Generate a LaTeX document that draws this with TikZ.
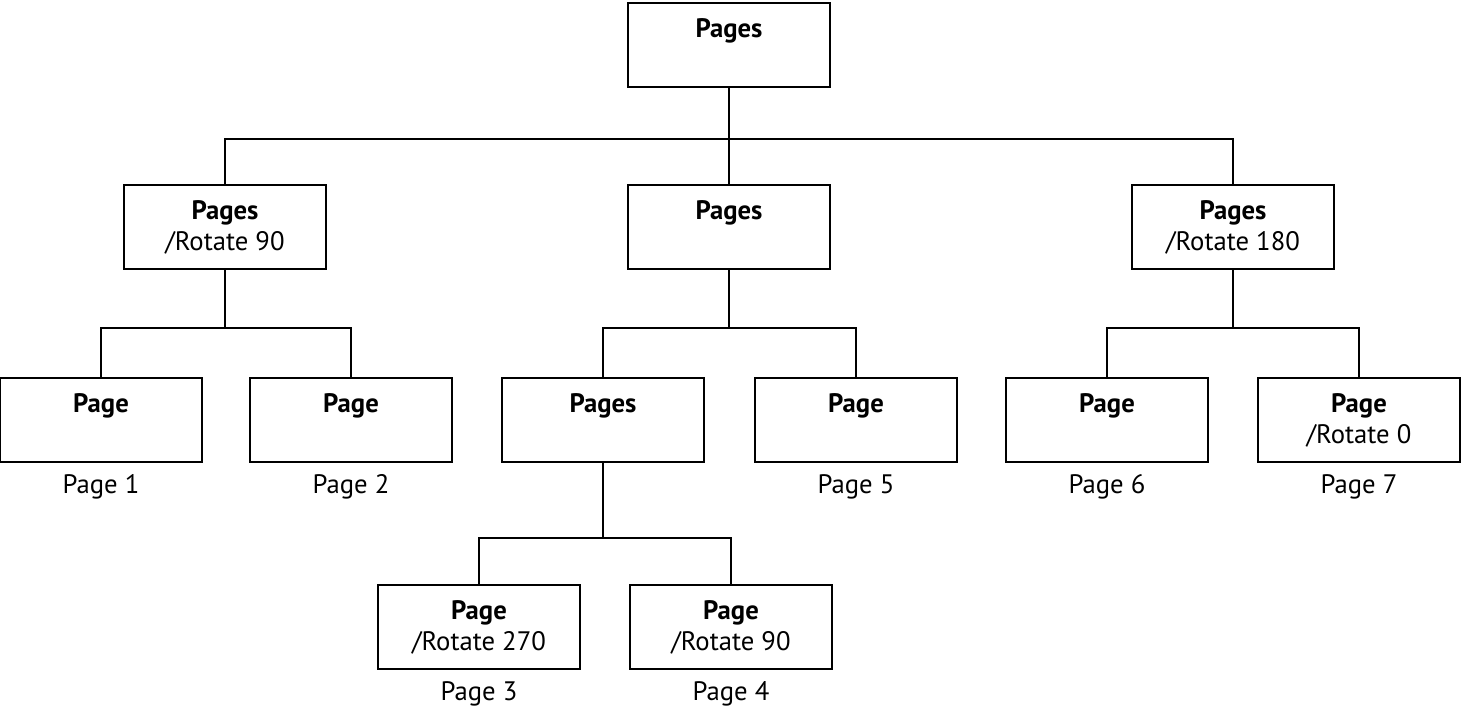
\documentclass[tikz,border=0pt]{standalone}
\usepackage{fontspec}
\setmainfont{PT Sans}
\usetikzlibrary{positioning}

\newcommand{\boxtxt}[2]{\parbox[t][1.68cm][t]{4cm}{\centering\rule{0pt}{0.7cm}\textbf{#1}\\#2}}

\begin{document}
\begin{tikzpicture}[x=0.02cm,y=-0.02cm,line width=0.8pt,
    bus/.style={to path={(\tikztostart) -- (\tikztostart |- #1) -| (\tikztotarget)}}]
    \useasboundingbox (0,0) rectangle (1478,715);
    \fontsize{15.2}{17.6}\selectfont
    \begin{scope}[every node/.style={rectangle,draw=black,minimum width=4.04cm,minimum height=1.68cm,inner sep=0pt}]
        \node (R) at (729,45) {\boxtxt{Pages}{}};
        \node (A) at (225,227) {\boxtxt{Pages}{/Rotate 90}};
        \node (B) at (729,227) {\boxtxt{Pages}{}};
        \node (C) at (1233,227) {\boxtxt{Pages}{/Rotate 180}};
        \node (A1) at (101,420) {\boxtxt{Page}{}};
        \node (A2) at (351,420) {\boxtxt{Page}{}};
        \node (B1) at (603,420) {\boxtxt{Pages}{}};
        \node (B2) at (856,420) {\boxtxt{Page}{}};
        \node (C1) at (1107,420) {\boxtxt{Page}{}};
        \node (C2) at (1359,420) {\boxtxt{Page}{/Rotate 0}};
        \node (B11) at (479,627) {\boxtxt{Page}{/Rotate 270}};
        \node (B12) at (731,627) {\boxtxt{Page}{/Rotate 90}};
    \end{scope}
    \begin{scope}[every node/.style={inner sep=0pt}]
        \node[below=0.22cm of A1] (n1) {Page 1};
        \node[below=0.22cm of A2] (n2) {Page 2};
        \node[below=0.22cm of B11] (n3) {Page 3};
        \node[below=0.22cm of B12] (n4) {Page 4};
        \node[below=0.22cm of B2] (n5) {Page 5};
        \node[below=0.22cm of C1] (n6) {Page 6};
        \node[below=0.22cm of C2] (n7) {Page 7};
    \end{scope}
    % bus lines of each level
    \coordinate (b0) at (0,139);
    \coordinate (b1) at (0,328);
    \coordinate (b2) at (0,538);
    \begin{scope}[every edge/.style={draw=black}]
        \draw (R.south) edge[bus=b0] (A.north) edge[bus=b0] (B.north) edge[bus=b0] (C.north);
        \draw (A.south) edge[bus=b1] (A1.north) edge[bus=b1] (A2.north);
        \draw (B.south) edge[bus=b1] (B1.north) edge[bus=b1] (B2.north);
        \draw (C.south) edge[bus=b1] (C1.north) edge[bus=b1] (C2.north);
        \draw (B1.south) edge[bus=b2] (B11.north) edge[bus=b2] (B12.north);
    \end{scope}
\end{tikzpicture}
\end{document}
